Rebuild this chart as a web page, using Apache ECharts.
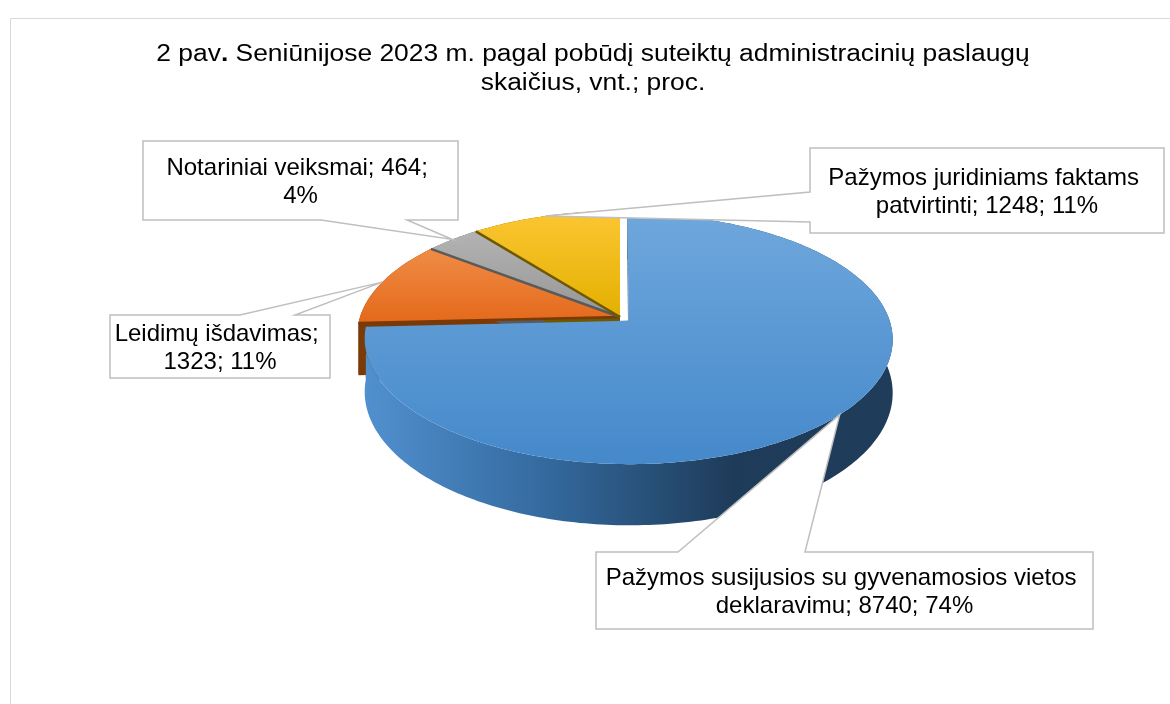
<!DOCTYPE html>
<html>
<head>
<meta charset="utf-8">
<script src="https://cdn.jsdelivr.net/npm/echarts@6/dist/echarts.min.js"></script>
<style>
  html, body { margin: 0; padding: 0; background: #fff; }
  #chart { width: 1170px; height: 704px; }
</style>
</head>
<body>
<div id="chart"></div>
<script>
// duomenys
const names = [
  'Pažymos susijusios su gyvenamosios vietos deklaravimu',
  'Leidimų išdavimas',
  'Notariniai veiksmai',
  'Pažymos juridiniams faktams patvirtinti'
];
const values = [8740, 1323, 464, 1248];

// 3D pyrago geometrija (Excel stiliaus perspektyva)
const CX = 620, CY = 317, RX = 260, RY = 121.4, DEPTH = 52, PERSP = 6.9;
const explode = [0.045, 0, 0, 0];

const topColors = [
  ['#6fa7dc', '#4589cb'],
  ['#f08c46', '#e4691b'],
  ['#b3b3b3', '#969696'],
  ['#fcc633', '#e3b000']
];
const wallColors = [
  [[0, '#5190cf'], [0.35, '#33699d'], [0.7, '#1e3b59'], [1, '#1f3c5a']],
  [[0, '#7b3b08'], [1, '#7b3b08']],
  [[0, '#5f5f5f'], [1, '#5f5f5f']],
  [[0, '#7a6000'], [1, '#7a6000']]
];
const edgeColors = [null, '#7a3a08', '#5a5a5a', '#6e5800'];

// etikečių dėžutės: [x0, y0, x1, y1], smaigalio kraštas ir pagrindas, teksto plotis
const boxes = [
  { rect: [596, 552, 1093, 629], side: 'top', base: [678, 805], wrap: 496 },
  { rect: [110, 315, 330, 378], side: 'top', base: [240, 295], wrap: 240 },
  { rect: [143, 141, 458, 220], side: 'bottom', base: [321, 407], wrap: 280 },
  { rect: [810, 148, 1164, 233], side: 'left', base: [192, 222], wrap: 330 }
];

const total = values.reduce((a, b) => a + b, 0);
const startAng = [], endAng = [];
let acc = 0;
values.forEach(v => {
  startAng.push(acc / total * 360);
  acc += v;
  endAng.push(acc / total * 360);
});

function proj(u, v, h) {
  const s = PERSP / (PERSP - v);
  return [CX + RX * u * s, CY + (RY * v + h) * s];
}
function rim(off, deg, h) {
  const r = deg * Math.PI / 180;
  return proj(off[0] + Math.sin(r), off[1] - Math.cos(r), h);
}
function arc(off, a0, a1, h) {
  const pts = [];
  const n = Math.max(2, Math.ceil(a1 - a0));
  for (let k = 0; k <= n; k++) pts.push(rim(off, a0 + (a1 - a0) * k / n, h));
  return pts;
}
function offsetOf(i) {
  const mid = (startAng[i] + endAng[i]) / 2 * Math.PI / 180;
  return [explode[i] * Math.sin(mid), -explode[i] * Math.cos(mid)];
}
function callout(b, tip) {
  const [x0, y0, x1, y1] = b.rect;
  const [b0, b1] = b.base;
  if (b.side === 'top') return [[x0, y0], [b0, y0], tip, [b1, y0], [x1, y0], [x1, y1], [x0, y1]];
  if (b.side === 'bottom') return [[x0, y0], [x1, y0], [x1, y1], [b1, y1], tip, [b0, y1], [x0, y1]];
  return [[x0, y0], [x1, y0], [x1, y1], [x0, y1], [x0, b1], tip, [x0, b0]];
}

function renderItem(params, api) {
  const i = params.dataIndex;
  const val = api.value(0);
  const a0 = startAng[i], a1 = endAng[i];
  const off = offsetOf(i);
  const apexTop = proj(off[0], off[1], 0);
  const apexBot = proj(off[0], off[1], DEPTH);
  const children = [];

  // pjūvio sienelės
  [a0, a1].forEach(a => {
    children.push({
      type: 'polygon', z2: 1,
      shape: { points: [apexTop, rim(off, a, 0), rim(off, a, DEPTH), apexBot] },
      style: { fill: edgeColors[i] || '#1e3b59' }
    });
  });
  // išorinė sienelė
  const topArc = arc(off, a0, a1, 0);
  const botArc = arc(off, a0, a1, DEPTH);
  children.push({
    type: 'polygon', z2: 2,
    shape: { points: topArc.concat(botArc.slice().reverse()) },
    style: { fill: new echarts.graphic.LinearGradient(0, 0, 1, 0, wallColors[i].map(c => ({ offset: c[0], color: c[1] }))) }
  });
  // viršus
  children.push({
    type: 'polygon', z2: 3,
    shape: { points: [apexTop].concat(topArc) },
    style: { fill: new echarts.graphic.LinearGradient(0, 0, 0, 1, [
      { offset: 0, color: topColors[i][0] }, { offset: 1, color: topColors[i][1] }
    ]) }
  });
  if (edgeColors[i]) {
    const r0 = rim(off, a0, 0);
    children.push({
      type: 'line', z2: 4,
      shape: { x1: apexTop[0], y1: apexTop[1], x2: r0[0], y2: r0[1] },
      style: { stroke: edgeColors[i], lineWidth: 2.5 }
    });
  }
  // etiketė
  const tip = rim(off, (a0 + a1) / 2, 0);
  const b = boxes[i];
  children.push({
    type: 'polygon', z2: 10,
    shape: { points: callout(b, tip) },
    style: { fill: '#ffffff', stroke: '#bfbfbf', lineWidth: 1.5 }
  });
  const pct = Math.round(val / total * 100);
  children.push({
    type: 'text', z2: 11,
    style: {
      text: names[i] + '; ' + val + '; ' + pct + '%',
      x: (b.rect[0] + b.rect[2]) / 2,
      y: (b.rect[1] + b.rect[3]) / 2 + 2,
      align: 'center', verticalAlign: 'middle',
      fontFamily: 'Liberation Sans, Arial, sans-serif', fontSize: 24,
      lineHeight: 28,
      width: b.wrap,
      overflow: 'break',
      fill: '#000000'
    }
  });
  return { type: 'group', children: children };
}

const chart = echarts.init(document.getElementById('chart'));
chart.setOption({
  animation: false,
  backgroundColor: '#ffffff',
  graphic: [
    {
      type: 'rect', z: -1,
      shape: { x: 10.5, y: 18.5, width: 1180, height: 720 },
      style: { fill: '#ffffff', stroke: '#d9d9d9', lineWidth: 1 }
    },
    {
      type: 'text',
      x: 593, y: 40, scaleX: 1.148,
      style: {
        x: 0, y: 0, align: 'center',
        text: '{n|2 pav}{b|.}{n| Seniūnijose 2023 m. pagal pobūdį suteiktų administracinių paslaugų}\n{n|skaičius, vnt.; proc.}',
        rich: {
          n: { fontFamily: 'Liberation Sans, Arial, sans-serif', fontSize: 23, lineHeight: 29, fill: '#000' },
          b: { fontFamily: 'Liberation Sans, Arial, sans-serif', fontSize: 23, lineHeight: 29, fontWeight: 'bold', fill: '#000' }
        }
      }
    }
  ],
  series: [{
    type: 'custom',
    coordinateSystem: 'none',
    silent: true,
    data: values,
    renderItem: renderItem
  }]
});
</script>
</body>
</html>
